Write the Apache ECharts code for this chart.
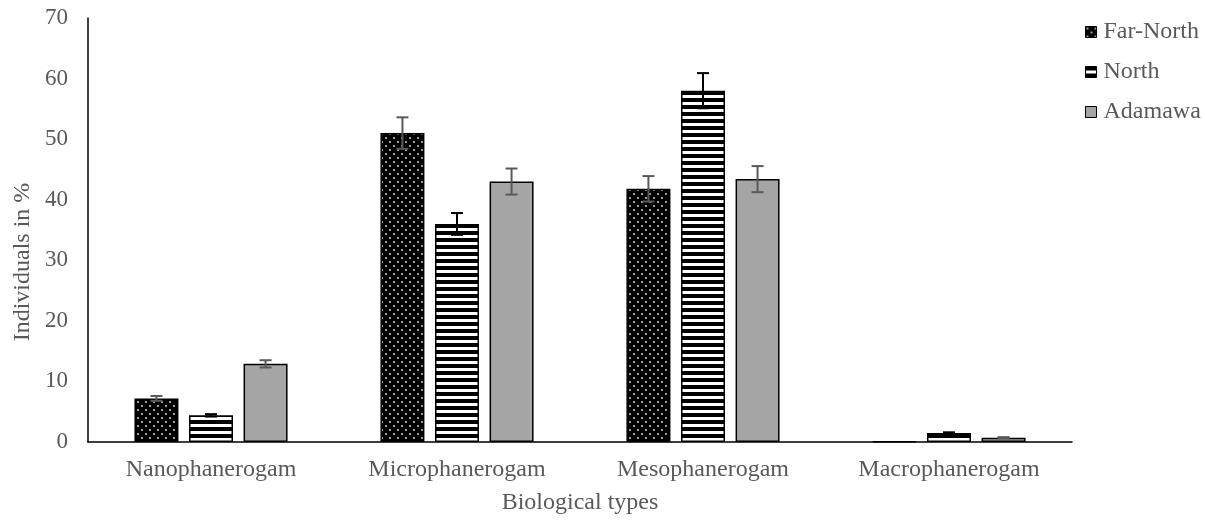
<!DOCTYPE html>
<html>
<head>
<meta charset="utf-8">
<script src="https://cdn.jsdelivr.net/npm/echarts@6/dist/echarts.min.js"></script>
<style>html,body{margin:0;padding:0;background:#fff;}#c{width:1205px;height:523px;}</style>
</head>
<body>
<div id="c"></div>
<script>
var categories = ['Nanophanerogam', 'Microphanerogam', 'Mesophanerogam', 'Macrophanerogam'];
var seriesNames = ['Far-North', 'North', 'Adamawa'];
var farNorth = [7.2, 51.0, 41.8, 0.1];
var north = [4.4, 36.0, 58.0, 1.5];
var adamawa = [12.9, 43.0, 43.4, 0.7];
var farNorthErr = [0.4, 2.6, 2.1, 0];
var northErr = [0.2, 1.8, 2.9, 0.1];
var adamawaErr = [0.6, 2.15, 2.15, 0.1];
var yTicks = [0, 10, 20, 30, 40, 50, 60, 70];

var values = [farNorth, north, adamawa];
var errs = [farNorthErr, northErr, adamawaErr];

function dotPattern() {
  var c = document.createElement('canvas');
  c.width = 8; c.height = 8;
  var g = c.getContext('2d');
  g.fillStyle = '#000'; g.fillRect(0, 0, 8, 8);
  g.fillStyle = '#9a9a9a';
  g.fillRect(1, 1, 2, 2);
  g.fillRect(5, 5, 2, 2);
  return c;
}
function stripePattern() {
  var c = document.createElement('canvas');
  c.width = 8; c.height = 7;
  var g = c.getContext('2d');
  g.fillStyle = '#000'; g.fillRect(0, 0, 8, 7);
  g.fillStyle = '#fff'; g.fillRect(0, 4, 8, 3);
  return c;
}
var fills = [
  { image: dotPattern(), repeat: 'repeat' },
  { image: stripePattern(), repeat: 'repeat' },
  '#A5A5A5'
];
var errColors = ['#595959', '#000000', '#595959'];

var BAR_W = 44, BAR_GAP = 0.24;
var FONT = 'Liberation Serif, Times New Roman, serif';
var TXT = '#595959';

var series = [];
seriesNames.forEach(function (name, i) {
  series.push({
    name: name,
    type: 'bar',
    barWidth: BAR_W,
    barGap: (BAR_GAP * 100) + '%',
    data: values[i],
    itemStyle: { color: fills[i], borderColor: '#000', borderWidth: 1.5 }
  });
});
seriesNames.forEach(function (name, i) {
  var data = values[i].map(function (v, k) { return [k, v, errs[i][k]]; });
  series.push({
    type: 'custom',
    name: name + ' err',
    data: data,
    z: 5,
    silent: true,
    renderItem: function (params, api) {
      var k = api.value(0), v = api.value(1), e = api.value(2);
      if (!e) return null;
      var step = BAR_W * (1 + BAR_GAP);
      var total = 3 * BAR_W + 2 * BAR_W * BAR_GAP;
      var off = -total / 2 + i * step + BAR_W / 2;
      var top = api.coord([k, v + e]);
      var bot = api.coord([k, v - e]);
      var x = top[0] + off;
      var cw = 6;
      var st = { stroke: errColors[i], lineWidth: 2 };
      return {
        type: 'group',
        children: [
          { type: 'line', shape: { x1: x, y1: top[1], x2: x, y2: bot[1] }, style: st },
          { type: 'line', shape: { x1: x - cw, y1: top[1], x2: x + cw, y2: top[1] }, style: st },
          { type: 'line', shape: { x1: x - cw, y1: bot[1], x2: x + cw, y2: bot[1] }, style: st }
        ]
      };
    }
  });
});

var chart = echarts.init(document.getElementById('c'));
chart.setOption({
  animation: false,
  backgroundColor: '#fff',
  grid: { left: 88, right: 133, top: 18, bottom: 81, containLabel: false },
  legend: {
    data: seriesNames,
    orient: 'vertical',
    left: 1080,
    top: 15,
    itemWidth: 11,
    itemHeight: 11,
    itemGap: 16,
    icon: 'rect',
    itemStyle: { borderColor: '#000', borderWidth: 1 },
    textStyle: { fontFamily: FONT, fontSize: 24, color: TXT, lineHeight: 24, padding: [0, 0, 0, 2] }
  },
  xAxis: {
    type: 'category',
    data: categories,
    axisLine: { show: true, lineStyle: { color: '#000', width: 1.5 } },
    axisTick: { show: false },
    axisLabel: { fontFamily: FONT, fontSize: 24, color: TXT, margin: 16 },
    name: 'Biological types',
    nameLocation: 'middle',
    nameGap: 49,
    nameTextStyle: { fontFamily: FONT, fontSize: 24, color: TXT }
  },
  yAxis: {
    type: 'value',
    min: 0, max: 70, interval: 10,
    axisLine: { show: true, lineStyle: { color: '#000', width: 1.5 } },
    axisTick: { show: false },
    splitLine: { show: false },
    axisLabel: {
      fontFamily: FONT, fontSize: 23, color: TXT, margin: 20,
      formatter: function (v) { return yTicks.indexOf(v) >= 0 ? String(v) : ''; }
    }
  },
  graphic: [{
    type: 'text',
    x: 23, y: 262,
    rotation: Math.PI / 2,
    style: {
      text: 'Individuals in %',
      font: '24px ' + FONT,
      fill: TXT,
      align: 'center',
      verticalAlign: 'middle'
    }
  }],
  series: series
});
</script>
</body>
</html>
